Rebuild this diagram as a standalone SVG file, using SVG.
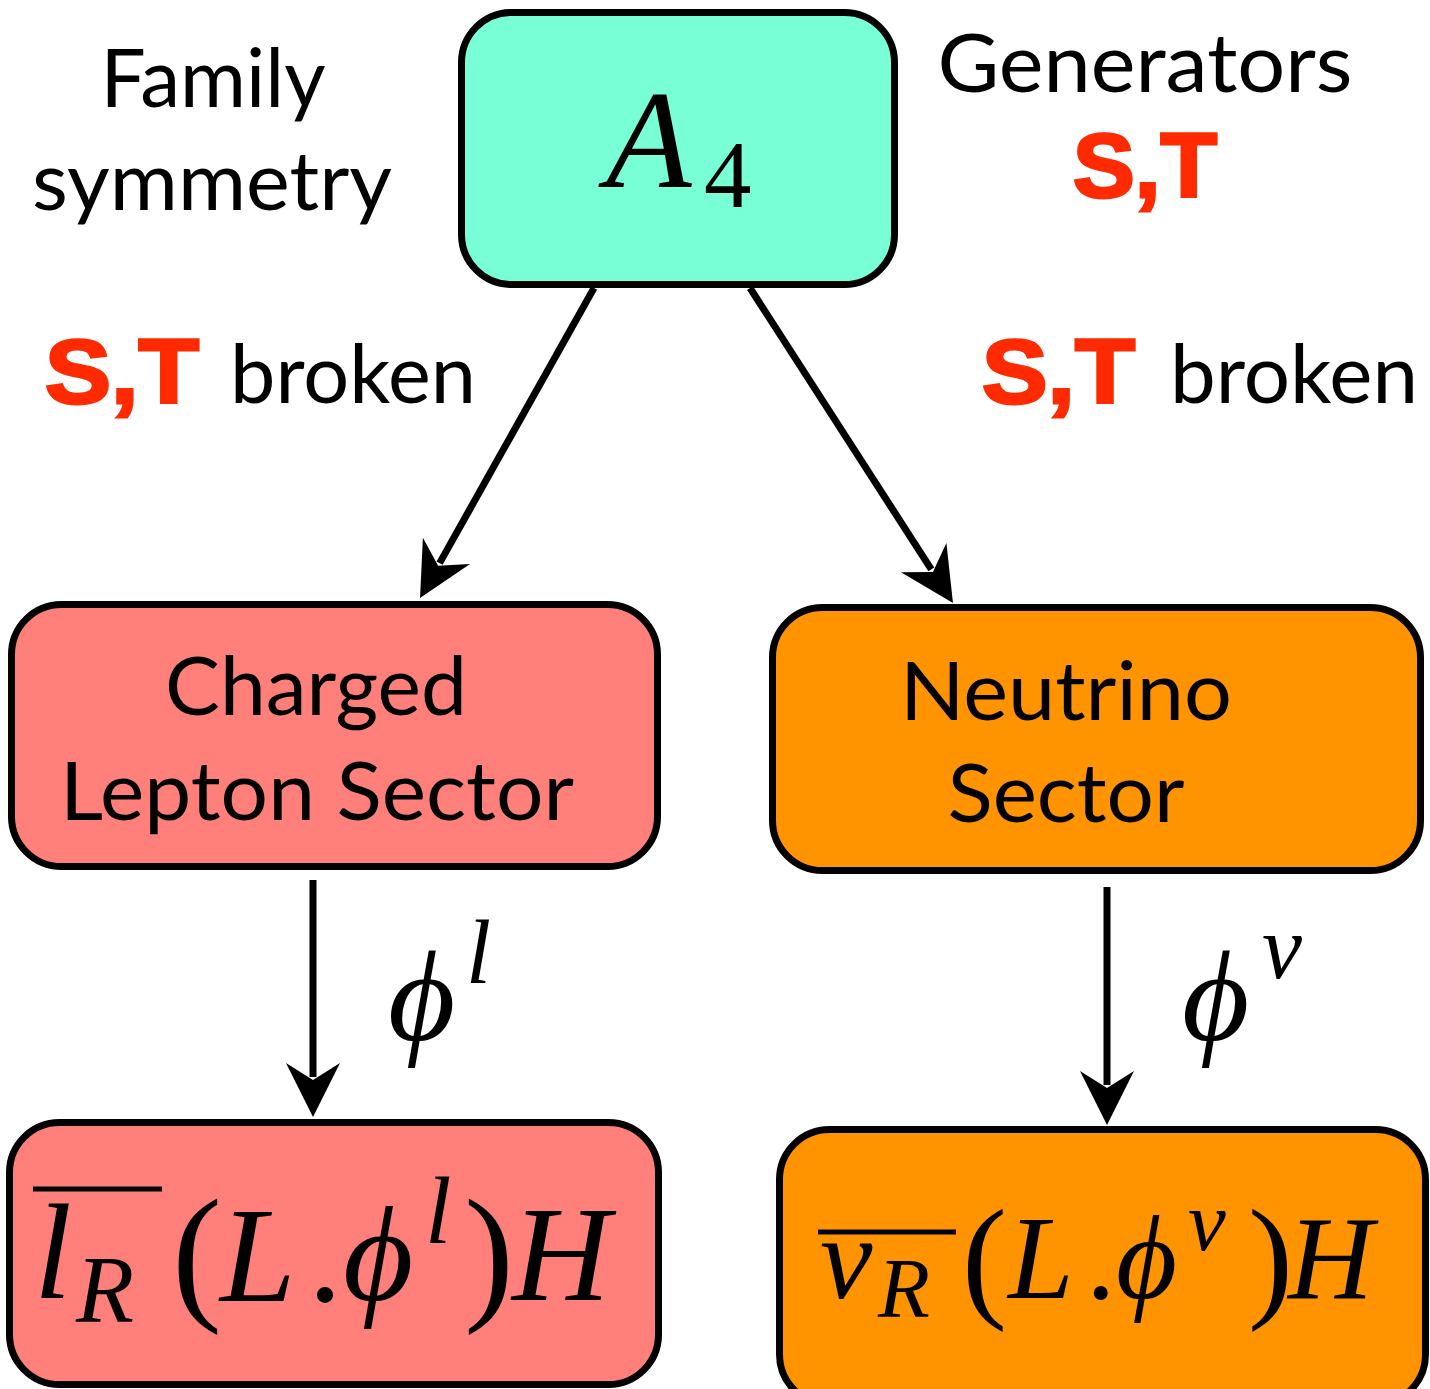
<svg xmlns="http://www.w3.org/2000/svg" width="1430" height="1389" viewBox="0 0 1430 1389">
<defs>
<style>
.sans{font-family:Lato,"Open Sans","Liberation Sans",sans-serif;font-size:82px;fill:#000}
.red{font-family:"Liberation Sans",Arial,sans-serif;font-weight:900;font-size:90px;fill:#FF2A00;stroke:#FF2A00;stroke-width:3}
.m{font-family:"Liberation Serif","DejaVu Serif",serif;font-style:italic;fill:#000}
.r{font-family:"Liberation Serif","DejaVu Serif",serif;fill:#000}
.box{stroke:#000;stroke-width:7}
.conn{stroke:#000;stroke-width:7;fill:none;marker-end:url(#ah)}
</style>
<marker id="ah" markerUnits="userSpaceOnUse" viewBox="-20 -30 64 60" refX="0" refY="0" markerWidth="64" markerHeight="60" orient="auto">
<path d="M40,0 L-14,-27 L3,0 L-14,27 Z" fill="#000"/>
</marker>
</defs>
<rect width="1430" height="1389" fill="#fff"/>

<g id="connectors">
<line class="conn" x1="594" y1="288" x2="439.6" y2="563.1"/>
<line class="conn" x1="750" y1="288" x2="931.3" y2="569.4"/>
<line class="conn" x1="313" y1="880" x2="313" y2="1077"/>
<line class="conn" x1="1107" y1="887" x2="1107" y2="1085"/>
</g>

<g id="label-family">
<text class="sans" x="213" y="107" text-anchor="middle" textLength="225" lengthAdjust="spacingAndGlyphs">Family</text>
<text class="sans" x="212" y="210" text-anchor="middle" textLength="360" lengthAdjust="spacingAndGlyphs">symmetry</text>
</g>
<g id="label-generators">
<text class="sans" x="1145" y="92" text-anchor="middle" textLength="415" lengthAdjust="spacingAndGlyphs">Generators</text>
<text class="red" x="1145" y="197" text-anchor="middle" textLength="144" lengthAdjust="spacingAndGlyphs">S,T</text>
</g>
<g id="label-broken-left">
<text class="red" x="45" y="403" textLength="154" lengthAdjust="spacingAndGlyphs">S,T</text>
<text class="sans" x="230" y="403" textLength="246" lengthAdjust="spacingAndGlyphs">broken</text>
</g>
<g id="label-broken-right">
<text class="red" x="982" y="403" textLength="153" lengthAdjust="spacingAndGlyphs">S,T</text>
<text class="sans" x="1170" y="403" textLength="248" lengthAdjust="spacingAndGlyphs">broken</text>
</g>

<g id="node-a4">
<rect class="box" x="461.5" y="12.5" width="433" height="272" rx="50" fill="#78FFD6"/>
<text class="m" x="606" y="187" font-size="140">A</text>
<text class="r" x="704" y="207" font-size="95">4</text>
</g>

<g id="node-charged">
<rect class="box" x="11.5" y="604.5" width="646" height="262" rx="50" fill="#FF807A"/>
<text class="sans" x="316" y="715" text-anchor="middle" textLength="302" lengthAdjust="spacingAndGlyphs">Charged</text>
<text class="sans" x="317" y="820" text-anchor="middle" textLength="514" lengthAdjust="spacingAndGlyphs">Lepton Sector</text>
</g>

<g id="node-neutrino">
<rect class="box" x="772.5" y="607.5" width="648" height="263" rx="50" fill="#FF9300"/>
<text class="sans" x="1066" y="720" text-anchor="middle" textLength="332" lengthAdjust="spacingAndGlyphs">Neutrino</text>
<text class="sans" x="1066" y="822" text-anchor="middle" textLength="237" lengthAdjust="spacingAndGlyphs">Sector</text>
</g>

<g id="label-phi-l">
<text class="m" x="388" y="1040" font-size="130">ϕ</text>
<text class="m" x="466" y="983" font-size="90">l</text>
</g>
<g id="label-phi-nu">
<text class="m" x="1182" y="1040" font-size="130">ϕ</text>
<text class="m" x="1262" y="978" font-size="90">ν</text>
</g>

<g id="node-lepton-term">
<rect class="box" x="9.5" y="1122.5" width="649" height="262" rx="50" fill="#FF807A"/>
<line x1="33" y1="1189" x2="162" y2="1189" stroke="#000" stroke-width="5"/>
<text class="m" x="34" y="1298" font-size="136">l</text>
<text class="m" x="76" y="1322" font-size="95">R</text>
<text class="r" x="172" y="1303" font-size="150">(</text>
<text class="m" x="220" y="1301" font-size="136">L</text>
<text class="r" x="308" y="1301" font-size="136">.</text>
<text class="m" x="343" y="1300" font-size="136">ϕ</text>
<text class="m" x="425" y="1243" font-size="95">l</text>
<text class="r" x="464" y="1303" font-size="150">)</text>
<text class="m" x="512" y="1300" font-size="136">H</text>
</g>

<g id="node-neutrino-term">
<rect class="box" x="779.5" y="1129.5" width="646" height="275" rx="50" fill="#FF9300"/>
<line x1="818" y1="1232" x2="956" y2="1232" stroke="#000" stroke-width="5"/>
<text class="m" x="820" y="1298" font-size="118">ν</text>
<text class="m" x="878" y="1317" font-size="85">R</text>
<text class="r" x="962" y="1303" font-size="135">(</text>
<text class="m" x="1008" y="1298" font-size="118">L</text>
<text class="r" x="1086" y="1298" font-size="118">.</text>
<text class="m" x="1116" y="1298" font-size="118">ϕ</text>
<text class="m" x="1188" y="1250" font-size="85">ν</text>
<text class="r" x="1248" y="1303" font-size="135">)</text>
<text class="m" x="1288" y="1298" font-size="118">H</text>
</g>
</svg>
